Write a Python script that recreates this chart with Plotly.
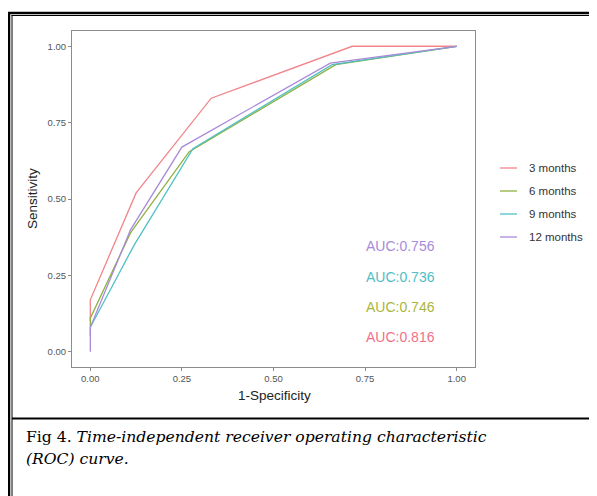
import plotly.graph_objects as go

series_names = ["3 months", "6 months", "9 months", "12 months"]
fpr_3m = [0.0, 0.0, 0.125, 0.33, 0.715, 1.0]
tpr_3m = [0.10, 0.17, 0.52, 0.83, 1.0, 1.0]
fpr_6m = [0.0, 0.0, 0.11, 0.27, 0.67, 1.0]
tpr_6m = [0.08, 0.11, 0.39, 0.655, 0.94, 1.0]
fpr_9m = [0.0, 0.0, 0.12, 0.28, 0.66, 1.0]
tpr_9m = [0.05, 0.08, 0.35, 0.665, 0.94, 1.0]
fpr_12m = [0.0, 0.0, 0.11, 0.25, 0.655, 1.0]
tpr_12m = [0.0, 0.08, 0.40, 0.67, 0.945, 1.0]
auc_labels = ["AUC:0.756", "AUC:0.736", "AUC:0.746", "AUC:0.816"]
auc_y = [0.345, 0.245, 0.147, 0.047]
tick_vals = [0.0, 0.25, 0.5, 0.75, 1.0]
tick_text = ["0.00", "0.25", "0.50", "0.75", "1.00"]

colors = {"3 months": "#f2858a", "6 months": "#8fb040", "9 months": "#4fc0c4", "12 months": "#a98ad8"}
auc_colors = ["#a98ad8", "#4fc0c4", "#a9b63a", "#f27088"]

OFF = 8  # page body margin
W, H = 597 - OFF, 496 - OFF
# plot area in page pixels
L, R, T, B = 72, 475, 31, 367

def px(x):
    return (x - L) / (R - L)

def py(y):
    return (B - y) / (B - T)

fig = go.Figure()
for name, xs, ys in [("3 months", fpr_3m, tpr_3m), ("6 months", fpr_6m, tpr_6m),
                     ("9 months", fpr_9m, tpr_9m), ("12 months", fpr_12m, tpr_12m)]:
    fig.add_trace(go.Scatter(x=xs, y=ys, mode="lines", name=name,
                             line=dict(color=colors[name], width=1.3), showlegend=False))

axis_common = dict(range=[-0.05, 1.05], tickvals=tick_vals, ticktext=tick_text,
                   showgrid=False, zeroline=False, showline=True, linecolor="#8c8c8c",
                   linewidth=1, mirror=True, ticks="outside", ticklen=3, tickcolor="#8c8c8c",
                   tickfont=dict(family="Liberation Sans", size=9.5, color="#555555"))
fig.update_xaxes(**axis_common)
fig.update_yaxes(**axis_common)

annotations = []
for lab, yv, c in zip(auc_labels, auc_y, auc_colors):
    annotations.append(dict(x=0.848, y=yv, xref="x", yref="y", text=lab, showarrow=False,
                            xanchor="center", yanchor="middle",
                            font=dict(family="Liberation Sans", size=14, color=c)))
annotations.append(dict(x=px(274), y=py(395), xref="paper", yref="paper", text="1-Specificity",
                        showarrow=False, xanchor="center", yanchor="middle",
                        font=dict(family="Liberation Sans", size=13.5, color="#222222")))
annotations.append(dict(x=px(32), y=py(199), xref="paper", yref="paper", text="Sensitivity",
                        showarrow=False, textangle=-90, xanchor="center", yanchor="middle",
                        font=dict(family="Liberation Sans", size=13.5, color="#222222")))

shapes = []
leg_y = [168, 191, 214, 237]
for name, ly in zip(series_names, leg_y):
    shapes.append(dict(type="line", xref="paper", yref="paper", x0=px(500), x1=px(517),
                       y0=py(ly), y1=py(ly), line=dict(color=colors[name], width=1.3)))
    annotations.append(dict(x=px(527), y=py(ly), xref="paper", yref="paper", text=name,
                            showarrow=False, xanchor="left", yanchor="middle",
                            font=dict(family="Liberation Sans", size=11.5, color="#333333")))

# figure frame (outer double border and caption divider)
shapes.append(dict(type="line", xref="paper", yref="paper", x0=px(8), x1=px(600),
                   y0=py(13), y1=py(13), line=dict(color="#000000", width=2.5)))
shapes.append(dict(type="line", xref="paper", yref="paper", x0=px(11.5), x1=px(600),
                   y0=py(15.5), y1=py(15.5), line=dict(color="#000000", width=1)))
shapes.append(dict(type="line", xref="paper", yref="paper", x0=px(9), x1=px(9),
                   y0=py(12), y1=py(500), line=dict(color="#000000", width=2.5)))
shapes.append(dict(type="line", xref="paper", yref="paper", x0=px(12), x1=px(12),
                   y0=py(15), y1=py(500), line=dict(color="#000000", width=1)))
shapes.append(dict(type="line", xref="paper", yref="paper", x0=px(12), x1=px(600),
                   y0=py(418.5), y1=py(418.5), line=dict(color="#000000", width=2)))

annotations.append(dict(x=px(24), y=py(437), xref="paper", yref="paper", xanchor="left",
                        yanchor="middle",
                        text="Fig 4. <i>Time-independent receiver operating characteristic</i>",
                        showarrow=False, font=dict(family="DejaVu Serif", size=15.6, color="#000000")))
annotations.append(dict(x=px(24), y=py(459), xref="paper", yref="paper", xanchor="left",
                        yanchor="middle", text="<i>(ROC) curve.</i>",
                        showarrow=False, font=dict(family="DejaVu Serif", size=15.6, color="#000000")))

fig.update_layout(width=W, height=H,
                  margin=dict(l=L - OFF, r=W - (R - OFF), t=T - OFF, b=H - (B - OFF), pad=0),
                  paper_bgcolor="white", plot_bgcolor="white",
                  annotations=annotations, shapes=shapes, showlegend=False)

fig.write_html("out.html")
